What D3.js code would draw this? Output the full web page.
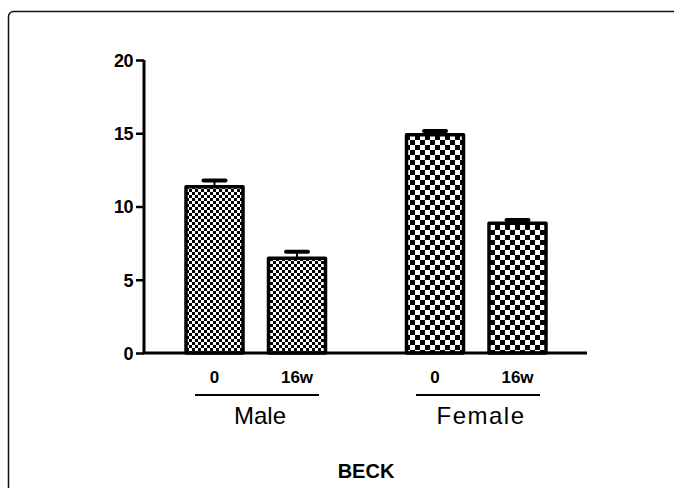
<!DOCTYPE html>
<html><head><meta charset="utf-8">
<script src="https://cdn.jsdelivr.net/npm/d3@7"></script>
<style>html,body{margin:0;padding:0;background:#fff;}svg{display:block;}</style>
</head><body>
<svg id="c" width="674" height="488"></svg>
<script>
const groups = ["Male", "Female"];
const timepoints = ["0", "16w"];
const categories = ["Male-0", "Male-16w", "Female-0", "Female-16w"];
const means = [11.35, 6.47, 14.89, 8.86];
const errors = [0.42, 0.44, 0.27, 0.22];
const yTicks = [0, 5, 10, 15, 20];
const xTitle = "BECK";

const FONT = "Liberation Sans, Arial, sans-serif";
const svg = d3.select("#c");
// frame
svg.append("rect").attr("x", 8.5).attr("y", 11.5).attr("width", 690).attr("height", 500)
  .attr("rx", 5).attr("fill", "none").attr("stroke", "#111").attr("stroke-width", 1.5);

const defs = svg.append("defs");
function checker(id, s) {
  const p = defs.append("pattern").attr("id", id).attr("patternUnits", "userSpaceOnUse")
    .attr("width", 2 * s).attr("height", 2 * s);
  p.append("rect").attr("width", 2 * s).attr("height", 2 * s).attr("fill", "#fff");
  p.append("rect").attr("width", s).attr("height", s).attr("fill", "#000");
  p.append("rect").attr("x", s).attr("y", s).attr("width", s).attr("height", s).attr("fill", "#000");
}
checker("pm", 3);
checker("pf", 5);

const y = d3.scaleLinear().domain([0, 20]).range([353, 60]);
const centers = d3.scaleOrdinal().domain(categories).range([214.5, 297, 435, 517.5]);
const barW = 57;

// bars
categories.forEach((c, i) => {
  const cx = centers(c);
  const pat = i < 2 ? "url(#pm)" : "url(#pf)";
  svg.append("line").attr("x1", cx).attr("x2", cx).attr("y1", y(means[i])).attr("y2", y(means[i] + errors[i]))
    .attr("stroke", "#000").attr("stroke-width", 2);
  svg.append("line").attr("x1", cx - 11).attr("x2", cx + 11).attr("y1", y(means[i] + errors[i])).attr("y2", y(means[i] + errors[i]))
    .attr("stroke", "#000").attr("stroke-width", 4).attr("stroke-linecap", "round");
  svg.append("rect").attr("x", cx - barW / 2).attr("y", y(means[i])).attr("width", barW)
    .attr("height", y(0) - y(means[i])).attr("fill", pat).attr("stroke", "#000").attr("stroke-width", 3.5)
    .attr("stroke-linejoin", "round");
});

// y axis
const yAxis = d3.axisLeft(y).tickValues(yTicks).tickSize(8).tickPadding(3);
const ga = svg.append("g").attr("transform", "translate(144,0)").call(yAxis);
ga.attr("font-size", null).attr("font-family", null);
ga.select(".domain").attr("stroke", "#000").attr("stroke-width", 3).attr("d", `M0,${y(20)}V${y(0)}`);
ga.selectAll(".tick line").attr("stroke", "#000").attr("stroke-width", 2.5);
ga.selectAll(".tick text").style("font-family", FONT).style("font-weight", "bold")
  .style("font-size", "18px").attr("fill", "#000").attr("dy", "0.36em").attr("letter-spacing", -0.5);

// x axis line
svg.append("line").attr("x1", 142.5).attr("x2", 587).attr("y1", y(0)).attr("y2", y(0))
  .attr("stroke", "#000").attr("stroke-width", 3);

// x tick labels
categories.forEach((c, i) => {
  svg.append("text").attr("x", centers(c)).attr("y", 383).attr("text-anchor", "middle")
    .style("font-family", FONT).style("font-weight", "bold").style("font-size", "17px")
    .text(timepoints[i % 2]);
});

// group lines and labels
const gspan = [[195, 319], [416, 540]];
groups.forEach((g, i) => {
  svg.append("line").attr("x1", gspan[i][0]).attr("x2", gspan[i][1]).attr("y1", 395).attr("y2", 395)
    .attr("stroke", "#000").attr("stroke-width", 2);
  svg.append("text").attr("x", (gspan[i][0] + gspan[i][1]) / 2 + 3).attr("y", 424).attr("text-anchor", "middle")
    .style("font-family", FONT).style("font-size", "24px").attr("fill", "#000")
    .attr("letter-spacing", i === 1 ? 1.5 : 0)
    .text(g);
});

svg.append("text").attr("x", 366).attr("y", 478).attr("text-anchor", "middle")
  .style("font-family", FONT).style("font-weight", "bold").style("font-size", "20px")
  .text(xTitle);
</script>
</body></html>
